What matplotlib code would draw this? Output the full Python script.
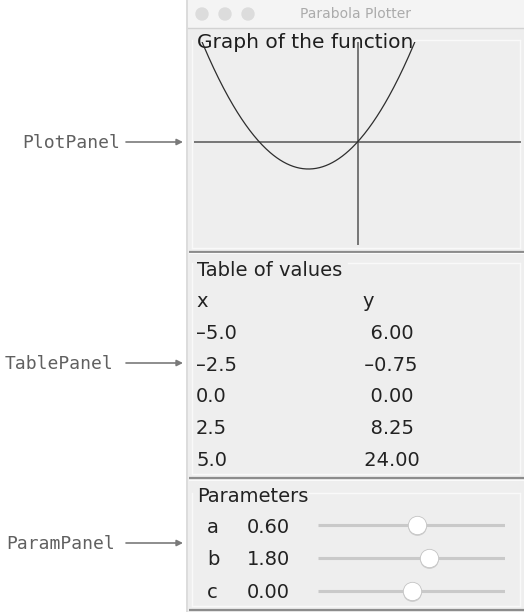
import numpy as np
import matplotlib
matplotlib.use("Agg")
import matplotlib.pyplot as plt
from matplotlib.patches import Rectangle, Circle

# parabola parameters (y = a x^2 + b x + c)
param_names = ["a", "b", "c"]
param_values = [0.60, 1.80, 0.00]

# table of values
table_x = [-5.0, -2.5, 0.0, 2.5, 5.0]
table_y = [6.00, -0.75, 0.00, 8.25, 24.00]

# callout labels on the left
panel_labels = ["PlotPanel", "TablePanel", "ParamPanel"]

W, H = 524, 612
fig = plt.figure(figsize=(W / 100, H / 100), dpi=100)
fig.patch.set_facecolor("white")

def px_axes(x0, y0, x1, y1, **kw):
    # axes from pixel box (top-left origin)
    return fig.add_axes([x0 / W, 1 - y1 / H, (x1 - x0) / W, (y1 - y0) / H], **kw)

# background axes in pixel coordinates
bg = px_axes(0, 0, W, H)
bg.set_xlim(0, W)
bg.set_ylim(H, 0)
bg.axis("off")

# window
bg.add_patch(Rectangle((188, 0), W - 188, H, color="#eeeeee", zorder=0))
bg.plot([187, 187], [0, H], color="#d6d6d6", lw=1.2)
bg.add_patch(Rectangle((188, 0), W - 188, 27, color="#f4f4f4", zorder=1))
bg.plot([188, W], [27.5, 27.5], color="#d2d2d2", lw=1)
for cx in [202, 225, 248]:
    bg.add_patch(Circle((cx, 14), 6, color="#dcdcdc", zorder=2))
bg.text(356, 14.5, "Parabola Plotter", fontsize=10, color="#ababab",
        ha="center", va="center")

# panel separators
for y in [251.5, 478, 610]:
    bg.plot([189, W], [y, y], color="#8c8c8c", lw=1.6, solid_capstyle="butt")
    bg.plot([189, W], [y + 1.6, y + 1.6], color="#fafafa", lw=0.8)

# etched titled borders
borders = [(40, 248, 414), (263, 474, 348), (493, 606, 309)]
for top, bot, tx in borders:
    kw = dict(color="#f9f9f9", lw=1.0)
    bg.plot([tx, 520], [top, top], **kw)
    bg.plot([192, 192], [top, bot], **kw)
    bg.plot([520, 520], [top, bot], **kw)
    bg.plot([192, 520], [bot, bot], **kw)

# left callouts
label_x = [22, 5, 6]
label_y = [143, 364, 544]
for name, lx, ly in zip(panel_labels, label_x, label_y):
    bg.text(lx, ly, name, family="DejaVu Sans Mono", fontsize=13,
            color="#606060", ha="left", va="center")
    bg.annotate("", xy=(183, ly - 1), xytext=(126, ly - 1),
                arrowprops=dict(arrowstyle="-|>", color="#7a7a7a", lw=1.2,
                                mutation_scale=9, shrinkA=0, shrinkB=0))

txt = dict(fontsize=14, color="#222222", family="DejaVu Sans")

# table panel
bg.text(197, 276, "Table of values", ha="left", va="baseline", **txt)
bg.text(196, 307, "x", ha="left", va="baseline", **txt)
bg.text(362, 307, "y", ha="left", va="baseline", **txt)
row_base = [339, 371, 402, 434, 466]
for xv, yv, yb in zip(table_x, table_y, row_base):
    bg.text(196, yb, f"{xv:.1f}".replace("-", "\u2013"),
            ha="left", va="baseline", **txt)
    bg.text(358, yb, f"{yv:6.2f}".replace("-", "\u2013"),
            ha="left", va="baseline", **txt)

# parameter panel
bg.text(197, 502, "Parameters", ha="left", va="baseline", **txt)
param_base = [533, 565, 598]
for nm, v, yb in zip(param_names, param_values, param_base):
    bg.text(207, yb, nm, ha="left", va="baseline", **txt)
    bg.text(247, yb, f"{v:.2f}", ha="left", va="baseline", **txt)

# sliders
sl = px_axes(318, 508.5, 505, 607.5)
sl.set_xlim(-9.5, 9.5)
sl.set_ylim(2.5, -0.5)
sl.axis("off")
sl.patch.set_alpha(0)
rows = np.arange(len(param_values))
sl.hlines(rows, -9.5, 9.5, color="#c9c9c9", lw=2.2)
sl.scatter(param_values, rows + 0.03, s=185, color="#cfcfcf", zorder=2,
           clip_on=False, linewidths=0)
sl.scatter(param_values, rows, s=175, facecolor="white", edgecolor="#c4c4c4",
           linewidths=0.6, zorder=3, clip_on=False)

# plot panel
ax = px_axes(194, 42, 521, 245)
ax.set_xlim(-5, 5)
ax.set_ylim(-5.15, 5.0)
ax.axis("off")
ax.patch.set_alpha(0)
ax.axhline(0, color="#555555", lw=1.1)
ax.axvline(0, color="#555555", lw=1.1)
xs = np.linspace(-5, 5, 400)
ax.plot(xs, np.polyval(param_values, xs), color="#2e2e2e", lw=0.9)
ax.text(197, 48, "Graph of the function", transform=bg.transData,
        ha="left", va="baseline", fontsize=14.5, color="#1e1e1e", zorder=5)

fig.savefig("out.png", dpi=100, facecolor="white")
